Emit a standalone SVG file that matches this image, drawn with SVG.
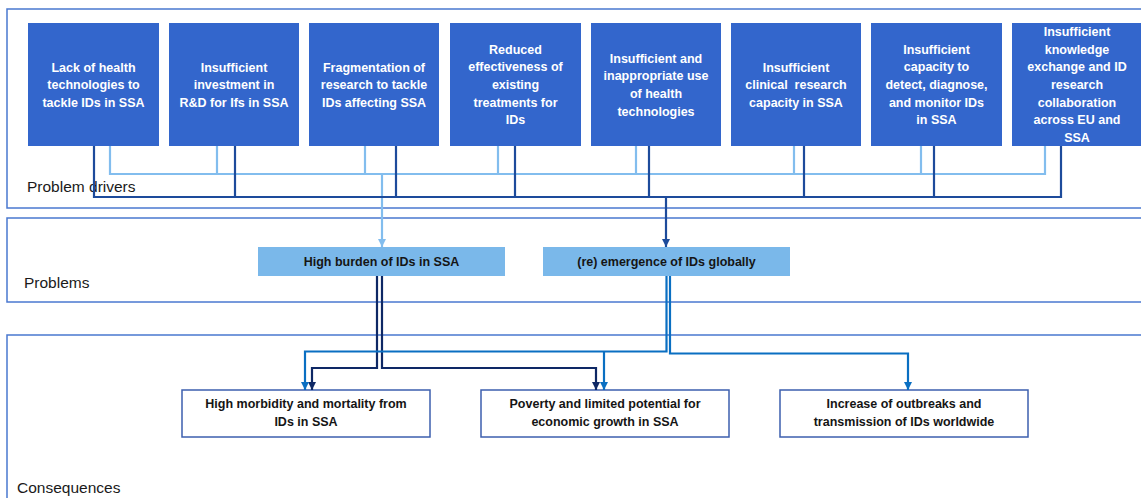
<svg xmlns="http://www.w3.org/2000/svg" width="1141" height="498" viewBox="0 0 1141 498">
  <style>
    .panel { fill: #ffffff; stroke: #4a78d0; stroke-width: 1.5; }
    .lane { font-family: "Liberation Sans", Arial, sans-serif; font-size: 15.5px; fill: #1a1a1a; }
    .driver rect { fill: #3366cc; }
    .driver text { font-family: "Liberation Sans", Arial, sans-serif; font-size: 12.5px; font-weight: bold; fill: #ffffff; text-anchor: middle; }
    .problem rect { fill: #7ab8ea; }
    .conseq rect { fill: #ffffff; stroke: #3d5fae; stroke-width: 1.5; }
    .problem text, .conseq text { font-family: "Liberation Sans", Arial, sans-serif; font-size: 12.5px; font-weight: bold; fill: #151515; text-anchor: middle; }
    .c { fill: none; stroke-width: 2.2; stroke-linejoin: miter; }
    .light { stroke: #82bdee; }
    .dark { stroke: #1d4b9b; }
    .navy { stroke: #0e2865; }
    .mid { stroke: #0a6fc2; }
  </style>
  <defs>
    <marker id="ahLight" markerUnits="userSpaceOnUse" markerWidth="8" markerHeight="8" viewBox="0 0 8 8" refX="8" refY="4" orient="auto">
      <path d="M0,0 L8,4 L0,8 z" fill="#82bdee"/>
    </marker>
    <marker id="ahDark" markerUnits="userSpaceOnUse" markerWidth="8" markerHeight="8" viewBox="0 0 8 8" refX="8" refY="4" orient="auto">
      <path d="M0,0 L8,4 L0,8 z" fill="#1d4b9b"/>
    </marker>
    <marker id="ahNavy" markerUnits="userSpaceOnUse" markerWidth="8" markerHeight="8" viewBox="0 0 8 8" refX="8" refY="4" orient="auto">
      <path d="M0,0 L8,4 L0,8 z" fill="#0e2865"/>
    </marker>
    <marker id="ahMid" markerUnits="userSpaceOnUse" markerWidth="8" markerHeight="8" viewBox="0 0 8 8" refX="8" refY="4" orient="auto">
      <path d="M0,0 L8,4 L0,8 z" fill="#0a6fc2"/>
    </marker>
  </defs>

  <!-- Swimlane panels -->
  <g id="lanes">
    <rect class="panel" x="7" y="9" width="1150" height="199"/>
    <rect class="panel" x="7" y="218" width="1150" height="84"/>
    <rect class="panel" x="7" y="335" width="1150" height="180"/>
    <text class="lane" x="27" y="192">Problem drivers</text>
    <text class="lane" x="24" y="288">Problems</text>
    <text class="lane" x="17" y="493">Consequences</text>
  </g>

  <!-- Problem drivers -->
  <g id="driver1" class="driver">
    <rect x="28" y="23" width="131" height="123"/>
    <text x="93.5"><tspan x="93.5" y="71.5">Lack of health</tspan><tspan x="93.5" y="89.2">technologies to</tspan><tspan x="93.5" y="106.9">tackle IDs in SSA</tspan></text>
  </g>
  <g id="driver2" class="driver">
    <rect x="169" y="23" width="130" height="123"/>
    <text x="234"><tspan x="234" y="71.5">Insufficient</tspan><tspan x="234" y="89.2">investment in</tspan><tspan x="234" y="106.9">R&amp;D for Ifs in SSA</tspan></text>
  </g>
  <g id="driver3" class="driver">
    <rect x="309" y="23" width="130" height="123"/>
    <text x="374"><tspan x="374" y="71.5">Fragmentation of</tspan><tspan x="374" y="89.2">research to tackle</tspan><tspan x="374" y="106.9">IDs affecting SSA</tspan></text>
  </g>
  <g id="driver4" class="driver">
    <rect x="450" y="23" width="131" height="123"/>
    <text x="515.5"><tspan x="515.5" y="53.6">Reduced</tspan><tspan x="515.5" y="71.3">effectiveness of</tspan><tspan x="515.5" y="89">existing</tspan><tspan x="515.5" y="106.7">treatments for</tspan><tspan x="515.5" y="124.4">IDs</tspan></text>
  </g>
  <g id="driver5" class="driver">
    <rect x="591" y="23" width="130" height="123"/>
    <text x="656"><tspan x="656" y="62.5">Insufficient and</tspan><tspan x="656" y="80.2">inappropriate use</tspan><tspan x="656" y="97.9">of health</tspan><tspan x="656" y="115.6">technologies</tspan></text>
  </g>
  <g id="driver6" class="driver">
    <rect x="731" y="23" width="130" height="123"/>
    <text x="796" xml:space="preserve" style="white-space:pre"><tspan x="796" y="71.5">Insufficient</tspan><tspan x="796" y="89.2">clinical  research</tspan><tspan x="796" y="106.9">capacity in SSA</tspan></text>
  </g>
  <g id="driver7" class="driver">
    <rect x="871" y="23" width="131" height="123"/>
    <text x="936.5"><tspan x="936.5" y="53.6">Insufficient</tspan><tspan x="936.5" y="71.3">capacity to</tspan><tspan x="936.5" y="89">detect, diagnose,</tspan><tspan x="936.5" y="106.7">and monitor IDs</tspan><tspan x="936.5" y="124.4">in SSA</tspan></text>
  </g>
  <g id="driver8" class="driver">
    <rect x="1012" y="23" width="131" height="123"/>
    <text x="1077"><tspan x="1077" y="35.9">Insufficient</tspan><tspan x="1077" y="53.6">knowledge</tspan><tspan x="1077" y="71.3">exchange and ID</tspan><tspan x="1077" y="89">research</tspan><tspan x="1077" y="106.7">collaboration</tspan><tspan x="1077" y="124.4">across EU and</tspan><tspan x="1077" y="142.1">SSA</tspan></text>
  </g>

  <!-- Problems -->
  <g id="problem1" class="problem">
    <rect x="258" y="247" width="247" height="29"/>
    <text x="381.5" y="266">High burden of IDs in SSA</text>
  </g>
  <g id="problem2" class="problem">
    <rect x="543" y="247" width="247" height="29"/>
    <text x="666.5" y="266">(re) emergence of IDs globally</text>
  </g>

  <!-- Consequences -->
  <g id="consequence1" class="conseq">
    <rect x="182" y="390" width="248" height="47"/>
    <text x="306"><tspan x="306" y="407.5">High morbidity and mortality from</tspan><tspan x="306" y="426">IDs in SSA</tspan></text>
  </g>
  <g id="consequence2" class="conseq">
    <rect x="481" y="390" width="248" height="47"/>
    <text x="605"><tspan x="605" y="407.5">Poverty and limited potential for</tspan><tspan x="605" y="426">economic growth in SSA</tspan></text>
  </g>
  <g id="consequence3" class="conseq">
    <rect x="780" y="390" width="248" height="47"/>
    <text x="904"><tspan x="904" y="407.5">Increase of outbreaks and</tspan><tspan x="904" y="426">transmission of IDs worldwide</tspan></text>
  </g>

  <!-- Connectors -->
  <g id="connectors">
    <!-- drivers feeding "High burden of IDs in SSA" -->
    <path class="c light" d="M110,146 V174 H1045 V146 M217,146 V174 M365,146 V174 M498,146 V174 M636,146 V174 M794,146 V174 M921,146 V174"/>
    <path class="c light" d="M382,174 V247" marker-end="url(#ahLight)"/>
    <!-- drivers feeding "(re) emergence of IDs globally" -->
    <path class="c dark" d="M94,146 V197 H1061 V146 M235,146 V197 M396,146 V197 M515,146 V197 M649,146 V197 M804,146 V197 M934,146 V197"/>
    <path class="c dark" d="M666,197 V247" marker-end="url(#ahDark)"/>
    <!-- High burden to consequences -->
    <path class="c navy" d="M377,276 V368 H312 V390" marker-end="url(#ahNavy)"/>
    <path class="c navy" d="M382,276 V368 H596 V390" marker-end="url(#ahNavy)"/>
    <!-- (re) emergence to consequences -->
    <path class="c mid" d="M666.5,276 V351.5 H305 V390" marker-end="url(#ahMid)"/>
    <path class="c mid" d="M604,351.5 V390" marker-end="url(#ahMid)"/>
    <path class="c mid" d="M670,276 V353.5 H908 V390" marker-end="url(#ahMid)"/>
  </g>
</svg>
